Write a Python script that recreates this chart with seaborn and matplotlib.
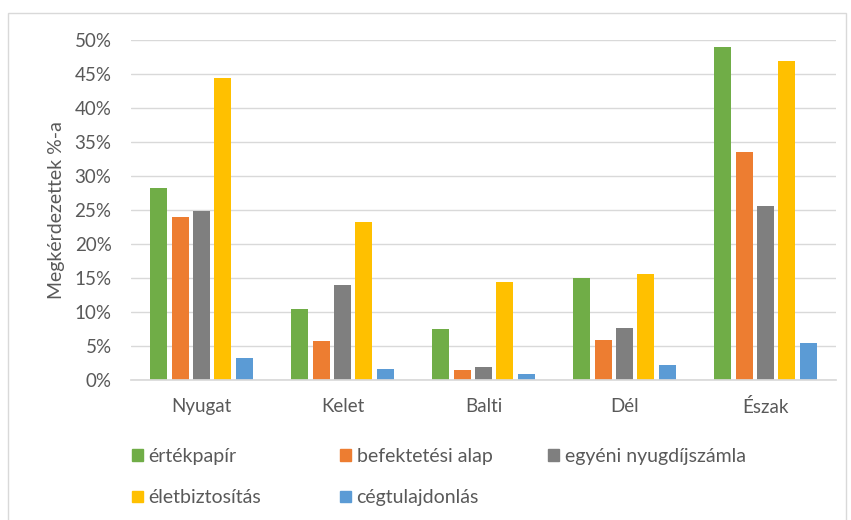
import matplotlib

matplotlib.use("Agg")
import matplotlib.pyplot as plt
import pandas as pd
import seaborn as sns
from matplotlib.patches import Rectangle
from matplotlib.ticker import PercentFormatter

regions = ["Nyugat", "Kelet", "Balti", "Dél", "Észak"]
series = ["értékpapír", "befektetési alap", "egyéni nyugdíjszámla", "életbiztosítás", "cégtulajdonlás"]
ertekpapir = [28.3, 10.4, 7.5, 15.0, 48.9]
befektetesi = [24.0, 5.7, 1.4, 5.9, 33.5]
nyugdij = [24.8, 13.9, 1.9, 7.6, 25.6]
eletbiztositas = [44.4, 23.3, 14.4, 15.6, 46.9]
cegtulajdon = [3.2, 1.6, 0.9, 2.2, 5.5]
colors = ["#70AD47", "#ED7D31", "#7F7F7F", "#FFC000", "#5B9BD5"]

values = [ertekpapir, befektetesi, nyugdij, eletbiztositas, cegtulajdon]
df = pd.DataFrame(
    [(r, s, v) for s, vals in zip(series, values) for r, v in zip(regions, vals)],
    columns=["region", "series", "value"],
)

sns.set_theme(style="white")
plt.rcParams["font.family"] = ["Lato", "DejaVu Sans"]
TXT = "#595959"

W, H = 851, 520
fig = plt.figure(figsize=(W / 100, H / 100), dpi=100)
ax = fig.add_axes([131 / W, 1 - 380 / H, (836 - 131) / W, (380 - 40) / H])

sns.barplot(
    data=df, x="region", y="value", hue="series", hue_order=series,
    palette=colors, width=0.756, gap=0.2, ax=ax, legend=False,
    saturation=1, linewidth=0,
)

ax.set_ylim(0, 50)
ax.set_xlim(-0.5, 4.5)
ax.set_yticks(range(0, 51, 5))
ax.yaxis.set_major_formatter(PercentFormatter(decimals=0))
ax.yaxis.grid(True, color="#d9d9d9", linewidth=1)
ax.set_axisbelow(True)
for sp in ["top", "right", "left"]:
    ax.spines[sp].set_visible(False)
ax.spines["bottom"].set_color("#d9d9d9")
ax.tick_params(axis="both", length=0, labelsize=13.5, colors=TXT)
ax.tick_params(axis="y", pad=14)
ax.tick_params(axis="x", pad=13)
ax.set_xlabel("")
ax.set_ylabel("Megkérdezettek %-a", fontsize=14, color=TXT, labelpad=7)

# legend in three columns placed like the original
cols = [(132, [0, 3]), (340, [1, 4]), (548, [2])]
for x0, idx in cols:
    handles = [Rectangle((0, 0), 1, 1, color=colors[i]) for i in idx]
    labels = [series[i] for i in idx]
    fig.legend(
        handles, labels, loc="upper left", bbox_to_anchor=(x0 / W, 1 - 448 / H),
        frameon=False, fontsize=14, handlelength=0.55, handleheight=0.55,
        handletextpad=0.3, labelspacing=1.25, borderaxespad=0, borderpad=0,
        labelcolor=TXT,
    )

fig.patches.append(
    Rectangle((8 / W, -0.02), (846 - 8) / W, 1 - 13 / H + 0.02,
              transform=fig.transFigure, fill=False, edgecolor="#d9d9d9", linewidth=1)
)

fig.savefig("out.png", dpi=100)
